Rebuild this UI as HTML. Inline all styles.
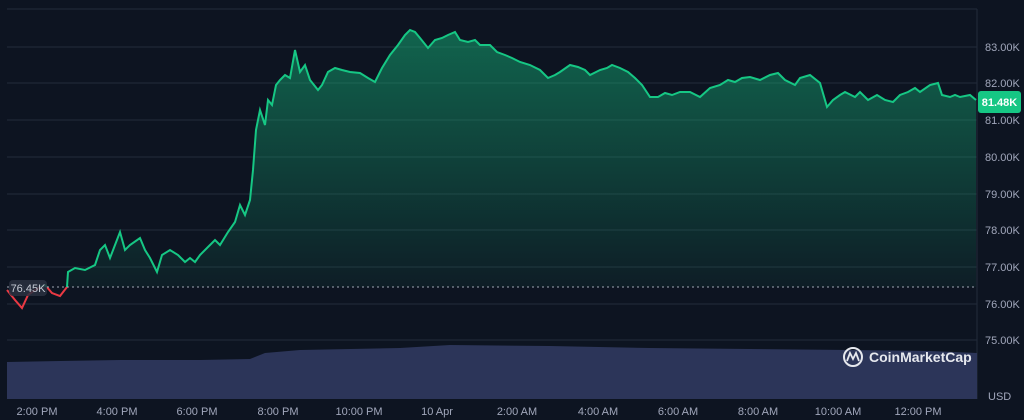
<!DOCTYPE html>
<html><head><meta charset="utf-8"><style>
html,body{margin:0;padding:0;background:#0d1421;}
svg{display:block;font-family:"Liberation Sans",sans-serif;}
</style></head><body>
<svg width="1024" height="420" viewBox="0 0 1024 420" xmlns="http://www.w3.org/2000/svg">
<defs>
<linearGradient id="g" x1="0" y1="0" x2="0" y2="1">
<stop offset="0" stop-color="#16c784" stop-opacity="0.45"/>
<stop offset="1" stop-color="#16c784" stop-opacity="0.02"/>
</linearGradient>
<clipPath id="above"><rect x="0" y="0" width="1024" height="287"/></clipPath>
<clipPath id="below"><rect x="0" y="287" width="1024" height="133"/></clipPath>
</defs>
<rect width="1024" height="420" fill="#0d1421"/>
<g stroke="#222b3a" stroke-width="1">
<line x1="7" y1="9" x2="977" y2="9"/>
<line x1="7" y1="47" x2="977" y2="47"/>
<line x1="7" y1="83" x2="977" y2="83"/>
<line x1="7" y1="120" x2="977" y2="120"/>
<line x1="7" y1="157" x2="977" y2="157"/>
<line x1="7" y1="194" x2="977" y2="194"/>
<line x1="7" y1="230" x2="977" y2="230"/>
<line x1="7" y1="267" x2="977" y2="267"/>
<line x1="7" y1="304" x2="977" y2="304"/>
<line x1="7" y1="340" x2="977" y2="340"/>
<line x1="977" y1="9" x2="977" y2="399"/>
</g>
<path d="M7,362 L60,361 L120,360 L200,360 L250,359 L265,353 L300,350 L400,348 L450,345 L550,346 L650,348 L750,349 L850,350 L930,351 L977,353 L977,399 L7,399 Z" fill="#2c3559"/>
<path id="p" d="M7,290 L15,300 L22,308 L28,295 L35,290 L45,285 L52,293 L60,296 L67,287 L68,272 L75,268 L85,270 L95,265 L100,250 L105,245 L110,258 L115,245 L120,232 L125,250 L130,245 L140,238 L145,250 L150,258 L157,272 L162,255 L170,250 L178,255 L185,262 L190,258 L195,262 L200,255 L210,245 L215,240 L220,245 L228,232 L235,222 L240,205 L245,215 L250,200 L253,170 L256,130 L260,110 L265,125 L268,100 L272,105 L276,85 L280,80 L285,75 L290,78 L295,50 L300,72 L305,65 L310,80 L318,90 L322,85 L328,72 L335,68 L342,70 L350,72 L360,73 L368,78 L375,82 L382,68 L390,55 L398,45 L405,35 L410,30 L415,32 L420,38 L428,48 L435,40 L442,38 L448,35 L455,32 L460,40 L468,42 L475,40 L480,45 L490,45 L497,52 L505,55 L512,58 L520,62 L530,65 L540,70 L548,78 L555,75 L560,72 L570,65 L578,67 L585,70 L590,75 L600,70 L607,68 L612,65 L620,68 L628,72 L635,78 L642,85 L650,97 L658,97 L665,93 L672,95 L680,92 L690,92 L700,97 L710,88 L720,85 L728,80 L735,82 L742,78 L750,77 L760,80 L770,75 L778,73 L785,80 L795,85 L800,78 L810,75 L820,83 L827,107 L833,100 L840,95 L845,92 L855,97 L860,92 L868,100 L877,95 L885,100 L893,102 L900,95 L908,92 L915,88 L920,92 L930,85 L938,83 L942,95 L950,97 L955,95 L960,97 L970,95 L976,100" fill="none"/>
<g clip-path="url(#above)">
<path d="M7,290 L15,300 L22,308 L28,295 L35,290 L45,285 L52,293 L60,296 L67,287 L68,272 L75,268 L85,270 L95,265 L100,250 L105,245 L110,258 L115,245 L120,232 L125,250 L130,245 L140,238 L145,250 L150,258 L157,272 L162,255 L170,250 L178,255 L185,262 L190,258 L195,262 L200,255 L210,245 L215,240 L220,245 L228,232 L235,222 L240,205 L245,215 L250,200 L253,170 L256,130 L260,110 L265,125 L268,100 L272,105 L276,85 L280,80 L285,75 L290,78 L295,50 L300,72 L305,65 L310,80 L318,90 L322,85 L328,72 L335,68 L342,70 L350,72 L360,73 L368,78 L375,82 L382,68 L390,55 L398,45 L405,35 L410,30 L415,32 L420,38 L428,48 L435,40 L442,38 L448,35 L455,32 L460,40 L468,42 L475,40 L480,45 L490,45 L497,52 L505,55 L512,58 L520,62 L530,65 L540,70 L548,78 L555,75 L560,72 L570,65 L578,67 L585,70 L590,75 L600,70 L607,68 L612,65 L620,68 L628,72 L635,78 L642,85 L650,97 L658,97 L665,93 L672,95 L680,92 L690,92 L700,97 L710,88 L720,85 L728,80 L735,82 L742,78 L750,77 L760,80 L770,75 L778,73 L785,80 L795,85 L800,78 L810,75 L820,83 L827,107 L833,100 L840,95 L845,92 L855,97 L860,92 L868,100 L877,95 L885,100 L893,102 L900,95 L908,92 L915,88 L920,92 L930,85 L938,83 L942,95 L950,97 L955,95 L960,97 L970,95 L976,100 L976,287 L7,287 Z" fill="url(#g)"/>
<use href="#p" stroke="#16c784" stroke-width="2"/>
</g>
<g clip-path="url(#below)">
<use href="#p" stroke="#ea3943" stroke-width="2"/>
</g>
<line x1="7" y1="287" x2="977" y2="287" stroke="#a0a6b4" stroke-width="1" stroke-dasharray="2,3"/>
<rect x="9" y="280" width="38" height="16" rx="4" fill="#2a3040" opacity="0.85"/>
<text x="28" y="292" font-size="11" fill="#c5cad4" text-anchor="middle">76.45K</text>
<g font-size="11" fill="#a1a7bb">
<text x="985" y="51">83.00K</text>
<text x="985" y="87">82.00K</text>
<text x="985" y="124">81.00K</text>
<text x="985" y="161">80.00K</text>
<text x="985" y="198">79.00K</text>
<text x="985" y="234">78.00K</text>
<text x="985" y="271">77.00K</text>
<text x="985" y="308">76.00K</text>
<text x="985" y="344">75.00K</text>
<text x="988" y="400">USD</text>
</g>
<rect x="978" y="91" width="43" height="22" rx="3" fill="#16c784"/>
<text x="999.5" y="106" font-size="11" font-weight="bold" fill="#ffffff" text-anchor="middle">81.48K</text>
<g font-size="11" fill="#a1a7bb" text-anchor="middle">
<text x="37" y="415">2:00 PM</text>
<text x="117" y="415">4:00 PM</text>
<text x="197" y="415">6:00 PM</text>
<text x="278" y="415">8:00 PM</text>
<text x="359" y="415">10:00 PM</text>
<text x="437" y="415">10 Apr</text>
<text x="517" y="415">2:00 AM</text>
<text x="598" y="415">4:00 AM</text>
<text x="678" y="415">6:00 AM</text>
<text x="758" y="415">8:00 AM</text>
<text x="838" y="415">10:00 AM</text>
<text x="918" y="415">12:00 PM</text>
</g>
<circle cx="853" cy="357" r="9" fill="none" stroke="#e6e8ee" stroke-width="2"/>
<path d="M847,361 L850,353 L853,359 L856,353 L859,361" fill="none" stroke="#e6e8ee" stroke-width="1.8"/>
<text x="869" y="362" font-size="14" font-weight="bold" fill="#e6e8ee">CoinMarketCap</text>
</svg>
</body></html>
